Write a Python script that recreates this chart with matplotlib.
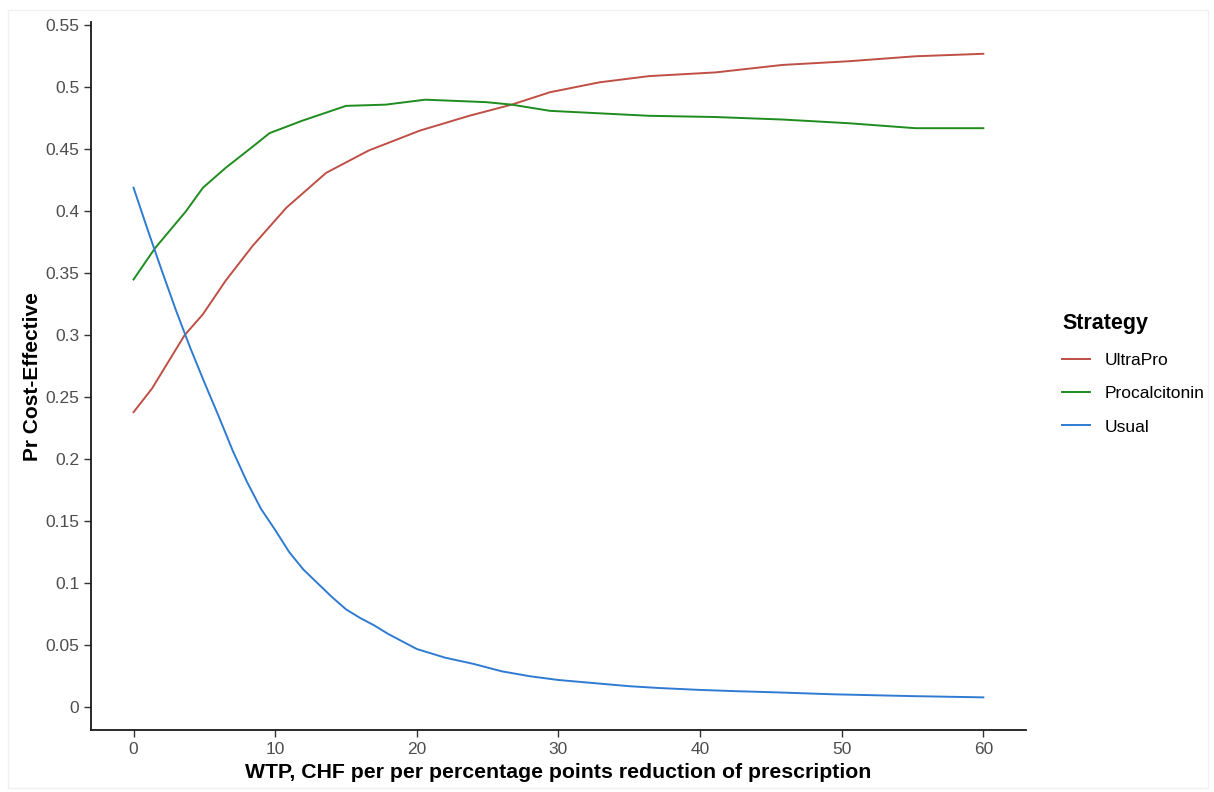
import matplotlib
matplotlib.use('Agg')
import matplotlib.pyplot as plt
from matplotlib.patches import Rectangle

plt.rcParams['font.family'] = ['Liberation Sans', 'DejaVu Sans']

# Values (WTP on x, probability on y)
wtp_usual = [0, 1, 2, 3, 4, 5, 6, 7, 8, 9, 10, 11, 12, 13, 14, 15, 16, 17, 18,
             19, 20, 22, 24, 26, 28, 30, 33, 35, 37, 40, 42.5, 45.5, 49.3, 55, 60]
pr_usual = [0.419, 0.385, 0.352, 0.320, 0.290, 0.262, 0.235, 0.207, 0.182,
            0.160, 0.143, 0.125, 0.111, 0.100, 0.089, 0.079, 0.072, 0.066,
            0.059, 0.053, 0.047, 0.040, 0.035, 0.029, 0.025, 0.022, 0.019,
            0.017, 0.0156, 0.014, 0.013, 0.012, 0.0105, 0.009, 0.008]

wtp_procal = [0, 1.5, 3.7, 4.9, 6.5, 8.4, 9.6, 11.9, 15.0, 17.8, 20.6, 24.9,
              26.7, 29.4, 32.9, 36.4, 41.1, 45.8, 50.5, 55.2, 60]
pr_procal = [0.345, 0.370, 0.400, 0.419, 0.435, 0.452, 0.463, 0.473, 0.485,
             0.486, 0.490, 0.488, 0.486, 0.481, 0.479, 0.477, 0.476, 0.474,
             0.471, 0.467, 0.467]

wtp_ultra = [0, 1.3, 3.6, 4.9, 6.5, 8.4, 10.8, 13.6, 16.6, 20.2, 23.7, 26.7,
             29.4, 32.9, 36.4, 41.1, 45.8, 50.5, 55.2, 60]
pr_ultra = [0.238, 0.257, 0.300, 0.317, 0.344, 0.372, 0.403, 0.431, 0.449,
            0.465, 0.477, 0.486, 0.496, 0.504, 0.509, 0.512, 0.518, 0.521,
            0.525, 0.527]

strategies = ['UltraPro', 'Procalcitonin', 'Usual']
colors = ['#BF4F45', '#1E8C1E', '#2F7BD2']

x_ticks = [0, 10, 20, 30, 40, 50, 60]
y_ticks = [0, 0.05, 0.1, 0.15, 0.2, 0.25, 0.3, 0.35, 0.4, 0.45, 0.5, 0.55]
y_tick_labels = ['0', '0.05', '0.1', '0.15', '0.2', '0.25', '0.3', '0.35',
                 '0.4', '0.45', '0.5', '0.55']

fig = plt.figure(figsize=(12.14, 7.92), dpi=100)
ax = fig.add_axes([0.075, 0.078, 0.770, 0.894])

# faint outer frame like the exported panel
fig.patches.append(Rectangle((0.007, 0.005), 0.988, 0.983, transform=fig.transFigure,
                             fill=False, edgecolor='#F0F0F0', linewidth=1))

series = [(wtp_ultra, pr_ultra), (wtp_procal, pr_procal), (wtp_usual, pr_usual)]
handles = []
for (xs, ys), name, col in zip(series, strategies, colors):
    h, = ax.plot(xs, ys, color=col, linewidth=1.4, label=name)
    handles.append(h)

ax.set_xlim(-3, 63)
ax.set_ylim(-0.0185, 0.5525)
ax.set_xticks(x_ticks)
ax.set_yticks(y_ticks)
ax.set_yticklabels(y_tick_labels)
ax.tick_params(axis='both', labelsize=12.5, colors='#333333', labelcolor='#4D4D4D',
               length=5, width=1)

for side in ['top', 'right']:
    ax.spines[side].set_visible(False)
for side in ['left', 'bottom']:
    ax.spines[side].set_linewidth(1.3)
    ax.spines[side].set_color('#1a1a1a')

ax.set_xlabel('WTP, CHF per per percentage points reduction of prescription',
              fontsize=15.3, fontweight='bold', labelpad=4)
ax.set_ylabel('Pr Cost-Effective', fontsize=15, fontweight='bold', labelpad=2)

leg = fig.legend(handles=handles, labels=strategies, title='Strategy',
                 loc='upper left', bbox_to_anchor=(0.862, 0.624), frameon=False,
                 fontsize=12.5, title_fontsize=15.5, handlelength=1.6,
                 handletextpad=0.85, labelspacing=1.05, alignment='left')
leg.get_title().set_fontweight('bold')

fig.savefig('out.png', dpi=100)
